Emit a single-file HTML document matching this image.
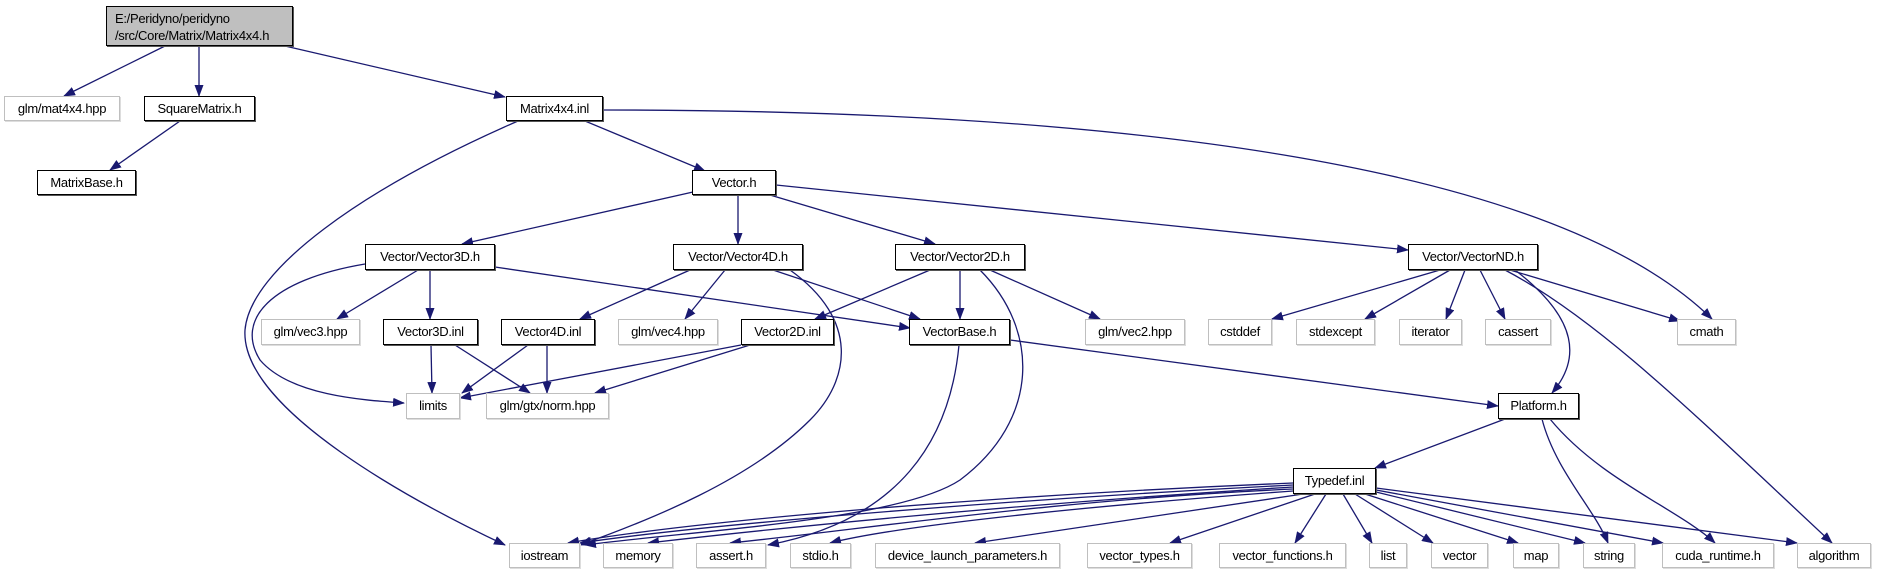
<!DOCTYPE html>
<html><head><meta charset="utf-8"><style>
html,body{margin:0;padding:0;background:#fff;}
body{width:1877px;height:575px;overflow:hidden;position:relative;font-family:"Liberation Sans",Arial,sans-serif;}
.n{position:absolute;box-sizing:border-box;border:1px solid #000;background:#fff;font-size:13px;line-height:23px;text-align:center;color:#000;white-space:nowrap;letter-spacing:-0.3px;box-shadow:1px 1px 0 #555;}
.g{border:1px solid #bfbfbf;box-shadow:1px 1px 0 #ddd;}
svg{position:absolute;left:0;top:0;}
</style></head><body>
<svg width="1877" height="575" viewBox="0 0 1877 575">
<defs><marker id="a" markerWidth="12" markerHeight="9" refX="11" refY="4.5" orient="auto" markerUnits="userSpaceOnUse"><path d="M0,0 L12,4.5 L0,9 Z" fill="#191970"/></marker></defs>
<g stroke="#191970" stroke-width="1.3" fill="none" marker-end="url(#a)">
<path d="M165,46 L64,96"/>
<path d="M199,46 L199,96"/>
<path d="M285,46 L505,97"/>
<path d="M180,121 L110,170"/>
<path d="M585,121 L705,171"/>
<path d="M603,110 C1100,110 1550,160 1712,319"/>
<path d="M518,121 C360,190 250,270 245,330 C240,410 420,505 505,545"/>
<path d="M693,192 L462,244"/>
<path d="M738,195 L738,244"/>
<path d="M770,195 L935,244"/>
<path d="M776,185 L1408,250"/>
<path d="M418,270 L337,319"/>
<path d="M430,270 L430,319"/>
<path d="M495,267 L910,328"/>
<path d="M365,264 C270,280 235,320 260,360 C290,395 360,400 404,403"/>
<path d="M690,270 L580,319"/>
<path d="M725,270 L685,319"/>
<path d="M773,270 L920,319"/>
<path d="M790,270 C860,320 850,380 810,420 C750,480 650,520 580,545"/>
<path d="M930,270 L815,319"/>
<path d="M960,270 L960,319"/>
<path d="M990,270 L1100,319"/>
<path d="M980,270 C1040,330 1040,420 960,480 C900,520 700,530 585,545"/>
<path d="M959,345 C950,440 900,520 768,545"/>
<path d="M431,345 L432,393"/>
<path d="M455,345 L530,393"/>
<path d="M528,345 L462,393"/>
<path d="M547,345 L547,393"/>
<path d="M741,345 L460,398"/>
<path d="M750,345 L595,393"/>
<path d="M1010,340 L1498,406"/>
<path d="M1440,270 L1272,319"/>
<path d="M1450,270 L1365,319"/>
<path d="M1465,270 L1446,319"/>
<path d="M1480,270 L1505,319"/>
<path d="M1510,270 L1680,321"/>
<path d="M1515,270 C1580,320 1580,360 1552,393"/>
<path d="M1505,270 C1600,320 1700,420 1832,543"/>
<path d="M1505,419 L1375,468"/>
<path d="M1542,419 C1555,470 1595,510 1608,543"/>
<path d="M1550,419 C1600,480 1680,510 1715,543"/>
<path d="M1293,483 C1000,495 700,520 568,543"/>
<path d="M1293,485 C1000,500 700,525 580,543"/>
<path d="M1293,487 C1000,505 760,530 648,543"/>
<path d="M1293,489 C1050,500 860,530 730,543"/>
<path d="M1293,491 C1100,505 900,525 830,543"/>
<path d="M1303,494 L975,543"/>
<path d="M1315,494 L1170,543"/>
<path d="M1326,494 L1295,543"/>
<path d="M1343,494 L1372,543"/>
<path d="M1355,494 L1433,543"/>
<path d="M1365,494 L1518,543"/>
<path d="M1376,492 L1585,543"/>
<path d="M1376,490 L1663,543"/>
<path d="M1376,488 L1797,543"/>
</g>
</svg>
<div class="n" style="left:106px;top:6px;width:187px;height:40px;line-height:17px;background:#bfbfbf;text-align:left;padding:3px 0 0 8px;">E:/Peridyno/peridyno<br>/src/Core/Matrix/Matrix4x4.h</div>
<div class="n g" style="left:4px;top:96px;width:116px;height:25px;">glm/mat4x4.hpp</div>
<div class="n" style="left:144px;top:96px;width:111px;height:25px;">SquareMatrix.h</div>
<div class="n" style="left:506px;top:96px;width:97px;height:25px;">Matrix4x4.inl</div>
<div class="n" style="left:37px;top:170px;width:99px;height:25px;">MatrixBase.h</div>
<div class="n" style="left:692px;top:170px;width:84px;height:25px;">Vector.h</div>
<div class="n" style="left:365px;top:244px;width:130px;height:26px;">Vector/Vector3D.h</div>
<div class="n" style="left:673px;top:244px;width:130px;height:26px;">Vector/Vector4D.h</div>
<div class="n" style="left:895px;top:244px;width:130px;height:26px;">Vector/Vector2D.h</div>
<div class="n" style="left:1408px;top:244px;width:130px;height:26px;">Vector/VectorND.h</div>
<div class="n g" style="left:261px;top:319px;width:99px;height:26px;">glm/vec3.hpp</div>
<div class="n" style="left:383px;top:319px;width:95px;height:26px;">Vector3D.inl</div>
<div class="n" style="left:501px;top:319px;width:94px;height:26px;">Vector4D.inl</div>
<div class="n g" style="left:618px;top:319px;width:100px;height:26px;">glm/vec4.hpp</div>
<div class="n" style="left:741px;top:319px;width:93px;height:26px;">Vector2D.inl</div>
<div class="n" style="left:909px;top:319px;width:101px;height:26px;">VectorBase.h</div>
<div class="n g" style="left:1085px;top:319px;width:100px;height:26px;">glm/vec2.hpp</div>
<div class="n g" style="left:1208px;top:319px;width:64px;height:26px;">cstddef</div>
<div class="n g" style="left:1296px;top:319px;width:79px;height:26px;">stdexcept</div>
<div class="n g" style="left:1399px;top:319px;width:63px;height:26px;">iterator</div>
<div class="n g" style="left:1485px;top:319px;width:66px;height:26px;">cassert</div>
<div class="n g" style="left:1677px;top:319px;width:59px;height:26px;">cmath</div>
<div class="n g" style="left:406px;top:393px;width:54px;height:26px;">limits</div>
<div class="n g" style="left:486px;top:393px;width:123px;height:26px;">glm/gtx/norm.hpp</div>
<div class="n" style="left:1498px;top:393px;width:81px;height:26px;">Platform.h</div>
<div class="n" style="left:1293px;top:468px;width:83px;height:26px;">Typedef.inl</div>
<div class="n g" style="left:509px;top:543px;width:71px;height:25px;">iostream</div>
<div class="n g" style="left:603px;top:543px;width:70px;height:25px;">memory</div>
<div class="n g" style="left:696px;top:543px;width:70px;height:25px;">assert.h</div>
<div class="n g" style="left:790px;top:543px;width:61px;height:25px;">stdio.h</div>
<div class="n g" style="left:875px;top:543px;width:185px;height:25px;">device_launch_parameters.h</div>
<div class="n g" style="left:1087px;top:543px;width:105px;height:25px;">vector_types.h</div>
<div class="n g" style="left:1219px;top:543px;width:127px;height:25px;">vector_functions.h</div>
<div class="n g" style="left:1369px;top:543px;width:38px;height:25px;">list</div>
<div class="n g" style="left:1431px;top:543px;width:57px;height:25px;">vector</div>
<div class="n g" style="left:1513px;top:543px;width:46px;height:25px;">map</div>
<div class="n g" style="left:1583px;top:543px;width:52px;height:25px;">string</div>
<div class="n g" style="left:1662px;top:543px;width:112px;height:25px;">cuda_runtime.h</div>
<div class="n g" style="left:1797px;top:543px;width:74px;height:25px;">algorithm</div>
</body></html>
